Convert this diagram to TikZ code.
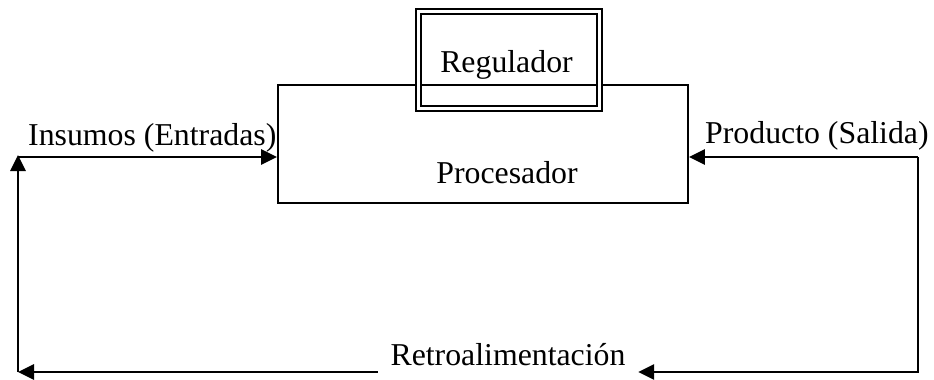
\documentclass[tikz,border=0pt]{standalone}
\usepackage{fontspec}
\setmainfont{Liberation Serif}
\usetikzlibrary{arrows.meta}
\begin{document}
\begin{tikzpicture}[x=1pt,y=-1pt,
  every node/.style={font=\fontsize{31.8}{38}\selectfont, inner sep=0pt},
  box/.style={draw, line width=1.8pt, rectangle},
  dbox/.style={draw, rectangle, line width=2.1pt, double, double distance=2.4pt},
  arr/.style={line width=2.8pt, -{Triangle[length=16pt,width=15pt]}}]
\useasboundingbox (0,0) rectangle (934,380);

% blocks
\node[box, minimum width=410pt, minimum height=118pt] (proc) at (483,144) {};
\node[dbox, minimum width=181pt, minimum height=97pt] (reg) at (509,60) {};

% labels
\node[anchor=base] (regtxt) at (506.5,72) {Regulador};
\node[anchor=base] (proctxt) at (507,183) {Procesador};
\node[anchor=base west] (intxt) at (28,145) {Insumos (Entradas)};
\node[anchor=base west] (outtxt) at (705,143) {Producto (Salida)};
\node[anchor=base, minimum width=260pt] (retro) at (508,365) {Retroalimentación};

% loop corners
\coordinate (rtop) at (918,157);
\coordinate (rbot) at (918,372);
\coordinate (lbot) at (18,372);
\coordinate (ltop) at (18,155);
\coordinate (lin) at (18,157);

% connectors
\draw[arr] (rtop) -- (proc.east |- rtop);
\draw[arr] (rtop) -- (rbot) -- (retro.east |- rbot);
\draw[arr] (retro.west |- lbot) -- (lbot);
\draw[arr] (lbot) -- (ltop);
\draw[arr] (lin) -- (proc.west |- lin);
\end{tikzpicture}
\end{document}
